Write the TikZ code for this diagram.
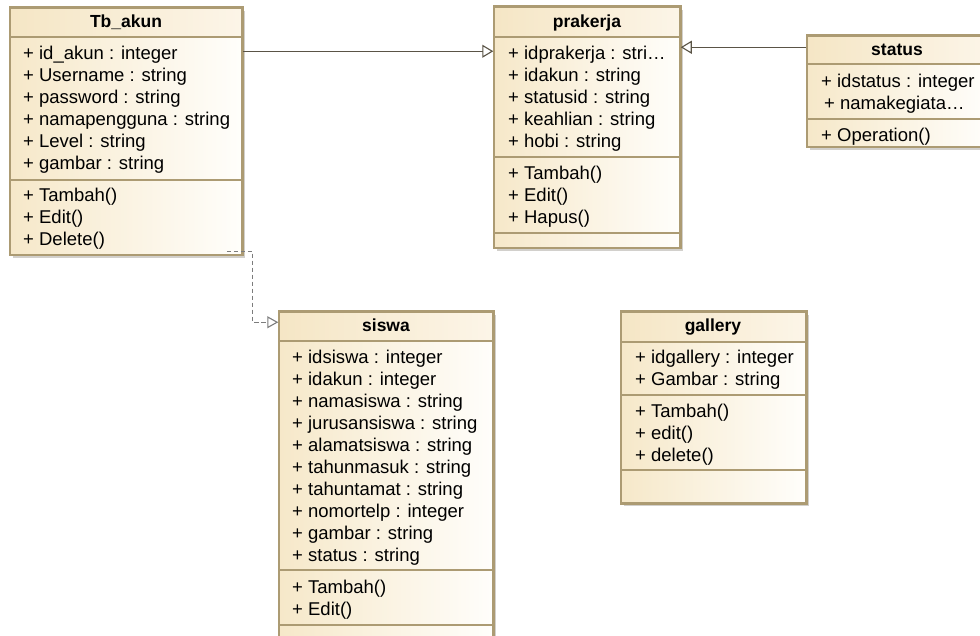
\documentclass[tikz,border=0pt]{standalone}
\usepackage{fontspec}
\setmainfont{Liberation Sans}
\usetikzlibrary{arrows.meta,calc,fit}

\definecolor{framec}{HTML}{AC9B73}
\definecolor{shadowc}{HTML}{D2D0CC}
\definecolor{bodyleft}{HTML}{F6E8C9}
\definecolor{bodyright}{HTML}{FFFEFB}
\definecolor{titleleft}{HTML}{F5E6C5}
\definecolor{titleright}{HTML}{FCF5E8}
\definecolor{linkc}{HTML}{5A5446}
\definecolor{dashc}{HTML}{7C7C7C}

\newcommand\memberfont{\fontsize{18.5}{22}\selectfont}
\newcommand\titlefont{\fontsize{17.5}{22}\selectfont\bfseries}

\tikzset{
  x=1pt, y=-1pt,
  boxshadow/.style={fill=shadowc},
  bodyshade/.style={left color=bodyleft, right color=bodyright},
  titleshade/.style={left color=titleleft, right color=titleright},
  frame/.style={draw=framec, line width=1.5pt, inner sep=0pt, fill=none},
  divider/.style={draw=framec, line width=1.3pt},
  member/.style={anchor=base west, inner sep=0pt, font=\memberfont, text=black},
  ctitle/.style={anchor=base, inner sep=0pt, font=\titlefont, text=black},
  generalize/.style={draw=linkc, line width=1.3pt,
    -{Triangle[open, length=11pt, width=13pt, line width=1.1pt]}},
  realize/.style={draw=dashc, line width=1.2pt, dash pattern=on 4.5pt off 2.5pt,
    -{Triangle[open, length=11pt, width=12pt, line width=1.1pt]}},
}

% class frame: #1 name, #2/#3 top-left, #4/#5 bottom-right, #6 title divider
\newcommand\classframe[6]{%
  \fill[boxshadow] (#2+3,#3+3) rectangle (#4+3,#5+3);
  \shade[bodyshade] (#2,#3) rectangle (#4,#5);
  \shade[titleshade] (#2,#3) rectangle (#4,#6);
  \draw[divider] (#2,#6) -- (#4,#6);
  \node[frame, fit={(#2,#3) (#4,#5)}] (#1) {};
}

\begin{document}
\begin{tikzpicture}
\useasboundingbox (0,0) rectangle (980,636);
\fill[white] (0,0) rectangle (980,636);
\begin{scope}
\clip (0,0) rectangle (980,636);

% ---------------- Tb_akun ----------------
\classframe{tb}{10}{8}{242}{255}{37}
\draw[divider] (10,180) -- (242,180);
\draw[frame] (tb.north west) rectangle (tb.south east);
\node[ctitle] (tb-t) at (126,28) {Tb\_akun};
\foreach \txt [count=\i] in {{+ id\_akun : integer},{+ Username : string},
    {+ password : string},{+ namapengguna : string},{+ Level : string},
    {+ gambar : string}}
  \node[member] (tb-a\i) at (23,{60+22*(\i-1)}) {\txt};
\foreach \txt [count=\i] in {{+ Tambah()},{+ Edit()},{+ Delete()}}
  \node[member] (tb-m\i) at (23,{202+22*(\i-1)}) {\txt};

% ---------------- prakerja ----------------
\classframe{pk}{494}{7}{680}{248}{37}
\draw[divider] (494,157) -- (680,157);
\draw[divider] (494,233) -- (680,233);
\draw[frame] (pk.north west) rectangle (pk.south east);
\node[ctitle] (pk-t) at (587,28) {prakerja};
\foreach \txt [count=\i] in {{+ idprakerja : stri…},{+ idakun : string},
    {+ statusid : string},{+ keahlian : string},{+ hobi : string}}
  \node[member] (pk-a\i) at (508,{60+22*(\i-1)}) {\txt};
\foreach \txt [count=\i] in {{+ Tambah()},{+ Edit()},{+ Hapus()}}
  \node[member] (pk-m\i) at (508,{180+22*(\i-1)}) {\txt};

% ---------------- status ----------------
\classframe{st}{807}{36}{987}{147}{64}
\draw[divider] (807,119) -- (987,119);
\draw[frame] (st.north west) rectangle (st.south east);
\node[ctitle] (st-t) at (897,56) {status};
\node[member] (st-a1) at (821,88) {+ idstatus : integer};
\node[member] (st-a2) at (824,110) {+ namakegiata…};
\node[member] (st-m1) at (821,142) {+ Operation()};

% ---------------- siswa ----------------
\classframe{sw}{279}{312}{493}{660}{341}
\draw[divider] (279,570) -- (493,570);
\draw[divider] (279,625) -- (493,625);
\draw[frame] (sw.north west) rectangle (sw.south east);
\node[ctitle] (sw-t) at (386,332) {siswa};
\foreach \txt [count=\i] in {{+ idsiswa : integer},{+ idakun : integer},
    {+ namasiswa : string},{+ jurusansiswa : string},{+ alamatsiswa : string},
    {+ tahunmasuk : string},{+ tahuntamat : string},{+ nomortelp : integer},
    {+ gambar : string},{+ status : string}}
  \node[member] (sw-a\i) at (292,{363+22*(\i-1)}) {\txt};
\foreach \txt [count=\i] in {{+ Tambah()},{+ Edit()}}
  \node[member] (sw-m\i) at (292,{593+22*(\i-1)}) {\txt};

% ---------------- gallery ----------------
\classframe{gl}{621}{312}{806}{503}{342}
\draw[divider] (621,395) -- (806,395);
\draw[divider] (621,470) -- (806,470);
\draw[frame] (gl.north west) rectangle (gl.south east);
\node[ctitle] (gl-t) at (713,332) {gallery};
\foreach \txt [count=\i] in {{+ idgallery : integer},{+ Gambar : string}}
  \node[member] (gl-a\i) at (635,{363+22*(\i-1)}) {\txt};
\foreach \txt [count=\i] in {{+ Tambah()},{+ edit()},{+ delete()}}
  \node[member] (gl-m\i) at (635,{417+22*(\i-1)}) {\txt};

% ---------------- relations ----------------
\draw[generalize] ($(tb.north east)+(0,44)$) -- ($(pk.north west)+(0,45)$);
\draw[generalize] ($(st.north west)+(0,12)$) -- ($(pk.north east)+(0,41)$);
\draw[realize] ($(tb.south east)+(-16,-4)$) -- ++(26,0)
  |- ($(sw.north west)+(0,11)$);

\end{scope}
\end{tikzpicture}
\end{document}
